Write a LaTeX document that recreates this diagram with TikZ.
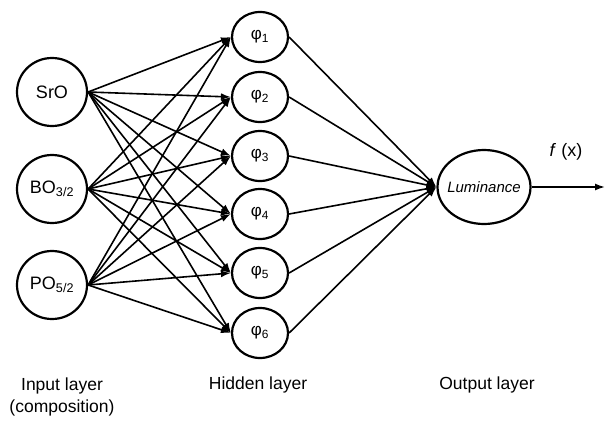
\documentclass[tikz,border=0pt]{standalone}
\usepackage{fontspec}
\setmainfont{Liberation Sans}
\usetikzlibrary{shapes.geometric,arrows.meta}
\begin{document}
\begin{tikzpicture}[x=1pt,y=-1pt,
  inp/.style={ellipse,draw,line width=2.2pt,minimum width=70pt,minimum height=68pt,inner sep=0pt,font=\fontsize{18}{20}\selectfont},
  hid/.style={ellipse,draw,line width=2.2pt,minimum width=56pt,minimum height=50pt,inner sep=0pt,font=\fontsize{17}{19}\selectfont},
  outn/.style={ellipse,draw,line width=2.2pt,minimum width=93pt,minimum height=74pt,inner xsep=-4pt,inner ysep=0pt,font=\itshape\fontsize{15}{17}\selectfont},
  lab/.style={font=\fontsize{17.5}{22}\selectfont,align=center},
  conn/.style={line width=1.6pt,-{Latex[length=10pt,width=7pt]}}]
\useasboundingbox (0,0) rectangle (607,428);
\node[inp] (i1) at (52,92) {SrO};
\node[inp] (i2) at (52,189) {BO\textsubscript{3/2}};
\node[inp] (i3) at (52,285) {PO\textsubscript{5/2}};
\foreach \k/\y in {1/37,2/97,3/156,4/214,5/273,6/333}{
  \node[hid] (h\k) at (260,\y) {φ\textsubscript{\k}};
}
\node[outn] (o) at (484,187) {Luminance};
\coordinate (e) at (605,187);
\foreach \i in {1,2,3}{
  \foreach \k in {1,...,6}{
    \draw[conn] (i\i.east) -- (h\k.west);
  }
}
\foreach \k in {1,...,6}{
  \draw[conn] (h\k.east) -- (o.west);
}
\draw[conn] (o.east) -- (e);
\node[font=\fontsize{18}{20}\selectfont] (fx) at (566,152) {\textit{f} (x)};
\node[lab] (l1) at (62,397) {Input layer\\(composition)};
\node[lab] (l2) at (258,385) {Hidden layer};
\node[lab] (l3) at (487,385) {Output layer};
\end{tikzpicture}
\end{document}
